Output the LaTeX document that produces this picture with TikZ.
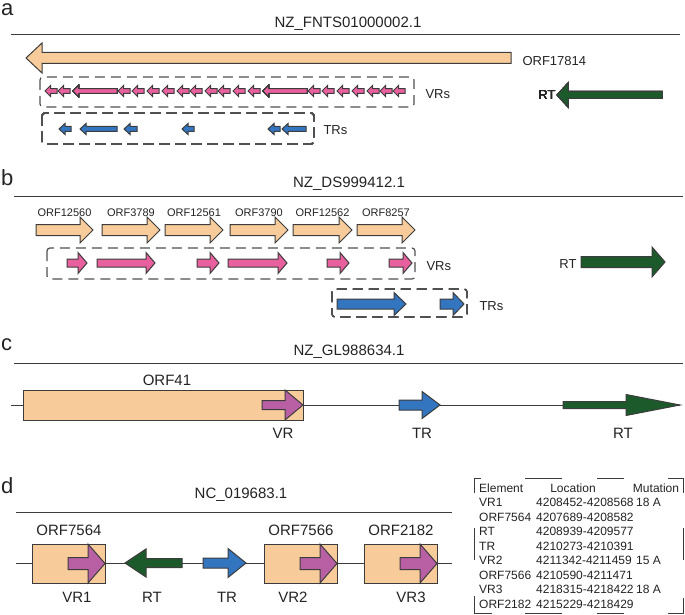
\documentclass[tikz,border=0pt]{standalone}
\usepackage{fontspec}
\setmainfont{Liberation Sans}
\definecolor{orfcol}{RGB}{248,203,155}
\definecolor{vrpink}{RGB}{232,96,157}
\definecolor{vrpurple}{RGB}{185,96,165}
\definecolor{trblue}{RGB}{52,117,192}
\definecolor{rtgreen}{RGB}{28,90,44}
\definecolor{outl}{RGB}{60,60,60}
\definecolor{txt}{RGB}{35,35,35}
\tikzset{
  gene/.style={draw=outl, line width=1pt},
  orf/.style={gene, fill=orfcol},
  vra/.style={gene, fill=vrpink},
  vrp/.style={gene, fill=vrpurple},
  tra/.style={gene, fill=trblue},
  rt/.style={gene, fill=rtgreen},
  orfbox/.style={gene, fill=orfcol},
  seqline/.style={draw=outl, line width=0.9pt},
  grp/.style={draw=outl!90, line width=1.2pt, dash pattern=on 10pt off 6pt, rounded corners=3pt},
  letter/.style={text=txt, anchor=base west, inner sep=0pt, font=\fontsize{22}{24}\selectfont},
  title/.style={text=txt, anchor=base, font=\fontsize{15}{18}\selectfont},
  lbl/.style={text=txt, anchor=base, font=\fontsize{13}{15}\selectfont},
  small/.style={text=txt, anchor=base, font=\fontsize{11}{13}\selectfont},
  big/.style={text=txt, anchor=base, font=\fontsize{15}{18}\selectfont},
  tab/.style={text=txt, anchor=base west, font=\fontsize{12}{14}\selectfont, inner sep=0pt},
  tabline/.style={draw=outl, line width=1pt}
}
% gene arrow: style, tail x, tip x, y, shaft half height, head half height, head length (signed)
\newcommand\genearrow[7]{%
  \draw[#1] (#2,#4-#5) -- ({#3-(#7)},#4-#5) -- ({#3-(#7)},#4-#6) -- (#3,#4)
    -- ({#3-(#7)},#4+#6) -- ({#3-(#7)},#4+#5) -- (#2,#4+#5) -- cycle;}
\begin{document}
\begin{tikzpicture}[x=1pt,y=-1pt]
\useasboundingbox (0,0) rectangle (685,615);

% panel a
\node[letter] (la) at (1,16) {a};
\node[title] (tta) at (348,28) {NZ\_FNTS01000002.1};
\draw[seqline] (11,34) -- (680,34);
\genearrow{orf}{511}{26}{58}{5.5}{15}{-16}
\node[lbl,anchor=base west] (orfa) at (519,66) {ORF17814};
\draw[grp] (40,77) rectangle (414,107);
\node[lbl,anchor=base west] (vrsa) at (422,99) {VRs};
\foreach \t in {45,58,118,132,147,162,177,190,205,218,233,248,308,322,337,352,367,380,393}
  \genearrow{vra}{\t+12}{\t}{91}{2.3}{5.5}{-5.5}
\foreach \t in {73,263}
  \genearrow{vra}{\t+44}{\t}{91}{2.3}{5.5}{-5.5}
\draw[grp] (42,113) rectangle (314,144);
\node[lbl,anchor=base west] (trsa) at (320,135) {TRs};
\foreach \t/\e in {59/71,80/117,124/137,182/194,268/280,282/306}
  \genearrow{tra}{\e}{\t}{129}{2.5}{5.5}{-6}
\genearrow{rt}{662}{557}{95}{3.5}{12}{-11}
\node[lbl,anchor=base east] (rta) at (559,100) {RT};

% panel b
\node[letter] (lb) at (1,185) {b};
\node[title] (ttb) at (349,187) {NZ\_DS999412.1};
\draw[seqline] (14,196) -- (683,196);
\foreach \s/\e/\n in {36/93/ORF12560,102/160/ORF3789,165/223/ORF12561,230/288/ORF3790,293/352/ORF12562,357/415/ORF8257}{
  \genearrow{orf}{\s}{\e}{230}{5.5}{13}{13}
  \node[small] (b\n) at ({(\s+\e)/2},216) {\n};
}
\draw[grp] (47,248) rectangle (415,279);
\node[lbl,anchor=base west] (vrsb) at (423,270) {VRs};
\foreach \s/\e in {67/87,97/155,197/219,228/287,327/349,389/412}
  \genearrow{vra}{\s}{\e}{263}{4}{10.5}{9}
\draw[grp] (332,289) rectangle (467,317);
\node[lbl,anchor=base west] (trsb) at (476,310) {TRs};
\genearrow{tra}{337}{406}{304}{5}{11.5}{12}
\genearrow{tra}{440}{464}{304}{5}{11.5}{11}
\genearrow{rt}{581}{665}{262}{5.5}{15}{13}
\node[lbl,anchor=base east] (rtb) at (580,268) {RT};

% panel c
\node[letter] (lc) at (1,350) {c};
\node[title] (ttc) at (349,355) {NZ\_GL988634.1};
\draw[seqline] (14,363) -- (683,363);
\draw[seqline] (11,405) -- (680,405);
\draw[orfbox] (23,390) rectangle (303,420);
\node[big] (orfc) at (167,385) {ORF41};
\genearrow{vrp}{262}{303}{405}{4.5}{15}{18}
\node[big] (vrc) at (283,438) {VR};
\genearrow{tra}{399}{440}{405}{5}{13.5}{18}
\node[big] (trc) at (422,438) {TR};
\genearrow{rt}{563}{680}{405}{3.5}{10.5}{54}
\node[big] (rtc) at (623,438) {RT};

% panel d
\node[letter] (ld) at (1,493) {d};
\node[title] (ttd) at (241,498) {NC\_019683.1};
\draw[seqline] (16,512) -- (452,512);
\draw[seqline] (16,563) -- (452,563);
\foreach \x/\n/\v/\vx in {32/ORF7564/VR1/77,264/ORF7566/VR2/293,364/ORF2182/VR3/411}{
  \draw[orfbox] (\x,544) rectangle (\x+73,583);
  \node[big] (d\n) at (\x+37,535) {\n};
  \genearrow{vrp}{\x+36}{\x+73}{563.5}{6}{19.5}{17}
  \node[big] (d\v) at (\vx,602) {\v};
}
\genearrow{rt}{182}{125}{563}{4.5}{14}{-21}
\node[big] (rtd) at (152,602) {RT};
\genearrow{tra}{203}{246}{563}{5}{14.5}{18}
\node[big] (trd) at (227,602) {TR};

% table
\node[tab] (hel) at (479,492) {Element};
\node[tab,anchor=base] (hloc) at (573,492) {Location};
\node[tab,anchor=base] (hmut) at (656,492) {Mutation};
\foreach \el/\loc/\mut [count=\i] in {VR1/4208452-4208568/18 A,ORF7564/4207689-4208582/{},RT/4208939-4209577/{},TR/4210273-4210391/{},VR2/4211342-4211459/15 A,ORF7566/4210590-4211471/{},VR3/4218315-4218422/18 A,ORF2182/4215229-4218429/{}}{
  \node[tab] (el\i) at (479,492+14.5*\i) {\el};
  \node[tab] (loc\i) at (536,492+14.5*\i) {\loc};
  \node[tab] (mut\i) at (636,492+14.5*\i) {\mut};
}
\draw[tabline] (474,493) -- (474,478) -- (481,478);
\draw[tabline] (668,478) -- (683,478) -- (683,493);
\draw[tabline] (474,596) -- (474,613) -- (492,613);
\draw[tabline] (668,613) -- (683,613) -- (683,598);
\foreach \a/\b in {525/562,597/624}{
  \draw[tabline] (\a,478) -- (\b,478);
  \draw[tabline] (\a,613) -- (\b,613);
}
\draw[tabline] (474,528) -- (474,560);
\draw[tabline] (683,528) -- (683,560);
\end{tikzpicture}
\end{document}
